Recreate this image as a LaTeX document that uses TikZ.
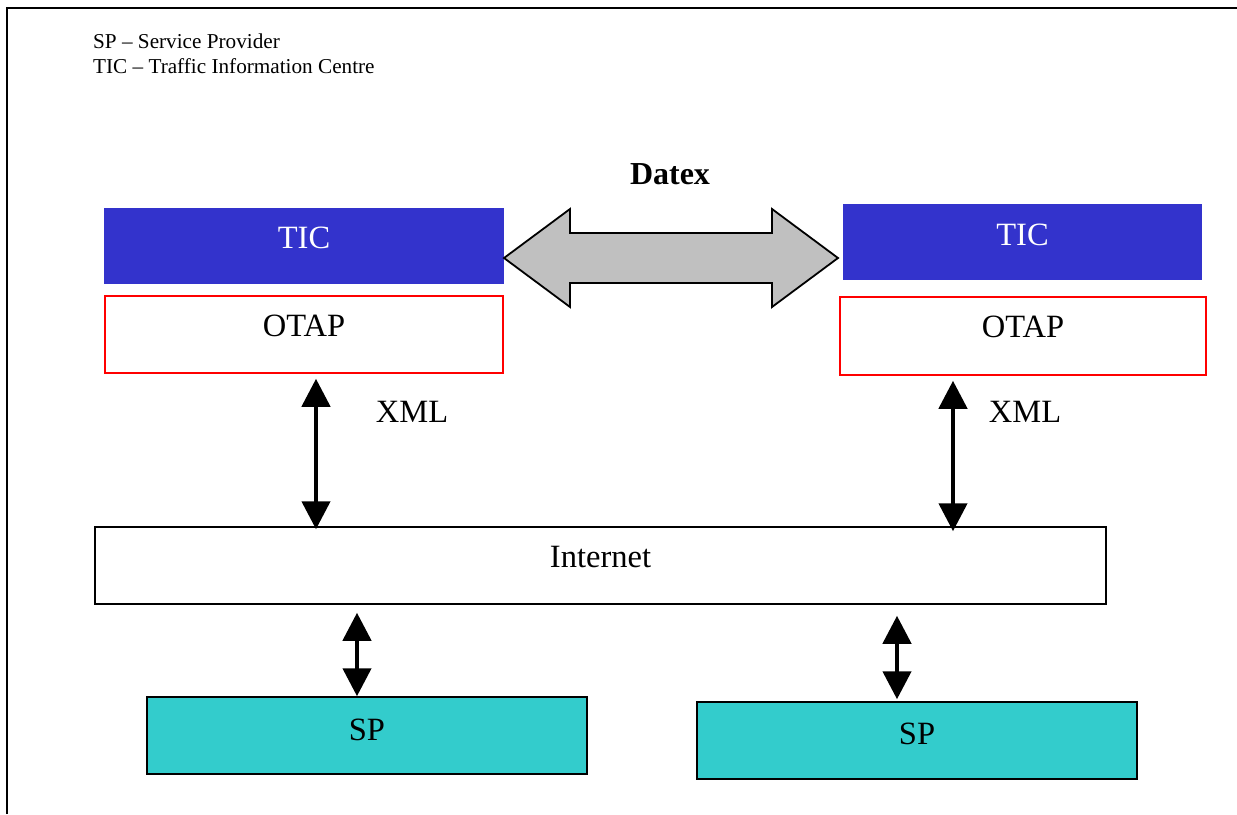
\documentclass[tikz,border=0pt]{standalone}
\usepackage{fontspec}
\setmainfont{Liberation Serif}
\usetikzlibrary{arrows.meta}
\definecolor{ticblue}{HTML}{3333CC}
\definecolor{spcyan}{HTML}{33CCCC}
\definecolor{datexgray}{HTML}{C0C0C0}
\begin{document}
\begin{tikzpicture}[x=1pt, y=-1pt,
            box/.style={minimum height=77pt, inner sep=0pt, line width=1.5pt},
            ticbox/.style={box, draw=ticblue, fill=ticblue, minimum height=74pt},
            otapbox/.style={box, draw=red, fill=white},
            netbox/.style={box, draw=black, fill=white},
            spbox/.style={box, draw=black, fill=spcyan},
            lbl/.style={font=\fontsize{32.5}{38}\selectfont},
            dbl/.style={{Triangle[width=28pt,length=28pt]}-{Triangle[width=28pt,length=28pt]}, line width=4.5pt}
            ]
            \useasboundingbox (0,0) rectangle (1237,814);
            \draw[line width=2.5pt] (7,814) -- (7,8) -- (1237,8);

            \node[anchor=west, align=left, inner sep=0pt, font=\fontsize{21.2}{25}\selectfont] (legend) at (93,54) {SP -- Service Provider\\TIC -- Traffic Information Centre};
            \node[font=\fontsize{32}{38}\selectfont\bfseries] (datex) at (670,174) {Datex};

            \node[ticbox, minimum width=398pt, label={[lbl, white, yshift=8pt]center:TIC}] (ticl) at (304,246) {};
            \node[ticbox, minimum width=357pt, label={[lbl, white, yshift=7pt]center:TIC}] (ticr) at (1022.5,242) {};
            \node[otapbox, minimum width=398pt, label={[lbl, yshift=9pt]center:OTAP}] (otapl) at (304,334.5) {};
            \node[otapbox, minimum width=366pt, minimum height=78pt, label={[lbl, yshift=9pt]center:OTAP}] (otapr) at (1023,336) {};
            \node[netbox, minimum width=1011pt, label={[lbl, yshift=8pt]center:Internet}] (internet) at (600.5,565.5) {};
            \node[spbox, minimum width=440pt, label={[lbl, yshift=6pt]center:SP}] (spl) at (367,735.5) {};
            \node[spbox, minimum width=440pt, label={[lbl, yshift=7pt]center:SP}] (spr) at (917,740.5) {};

            \node[lbl] (xmll) at (412,412) {XML};
            \node[lbl] (xmlr) at (1025,412) {XML};

            % Datex exchange
            \draw[line width=1.8pt, fill=datexgray] (504,258) -- (570,209) -- (570,233) -- (772,233) -- (772,209) -- (838,258)
                -- (772,307) -- (772,283) -- (570,283) -- (570,307) -- cycle;

            \draw[dbl] ([xshift=12pt,yshift=-5pt]otapl.south) -- ([xshift=12pt,yshift=-3pt]otapl.south |- internet.north);
            \draw[dbl] ([xshift=-70pt,yshift=-5pt]otapr.south) -- ([xshift=-70pt,yshift=-5pt]otapr.south |- internet.north);
            \draw[dbl] ([xshift=-10pt,yshift=-8pt]spl.north |- internet.south) -- ([xshift=-10pt]spl.north);
            \draw[dbl] ([xshift=-20pt,yshift=-11pt]spr.north |- internet.south) -- ([xshift=-20pt,yshift=2pt]spr.north);
\end{tikzpicture}
\end{document}
